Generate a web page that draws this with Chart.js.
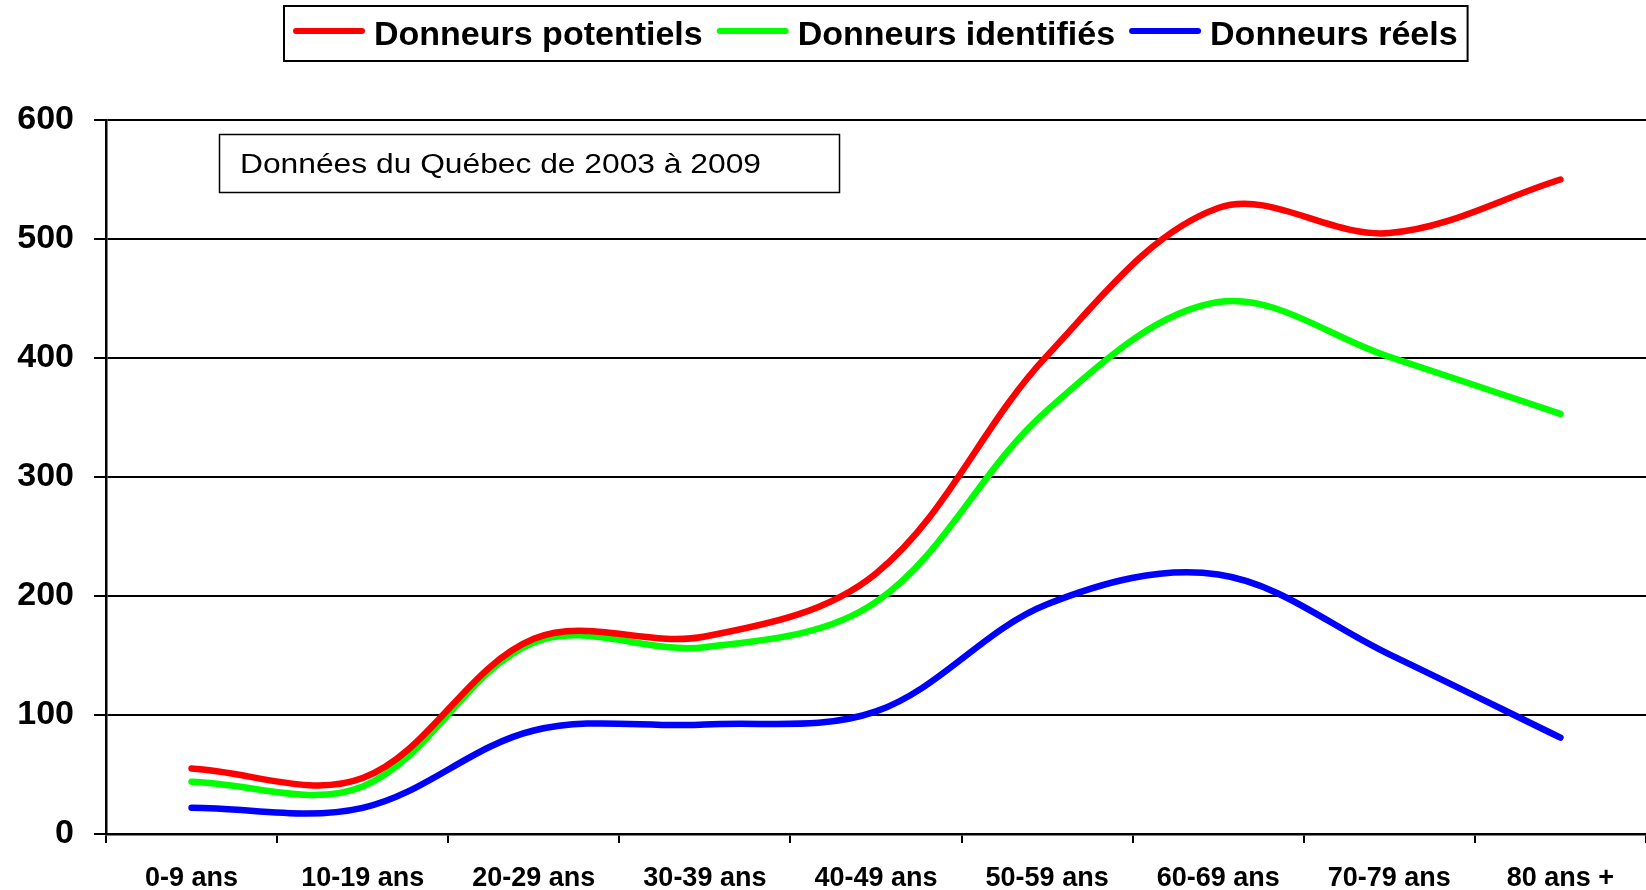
<!DOCTYPE html>
<html>
<head>
<meta charset="utf-8">
<script src="https://cdn.jsdelivr.net/npm/chart.js@4.4.1/dist/chart.umd.min.js"></script>
<style>
html,body{margin:0;padding:0;background:#fff;}
#wrap{width:1646px;height:890px;position:relative;}
</style>
</head>
<body>
<div id="wrap"><canvas id="c" width="1646" height="890"></canvas></div>
<script>
// ---- data ----
const categories = ['0-9 ans','10-19 ans','20-29 ans','30-39 ans','40-49 ans','50-59 ans','60-69 ans','70-79 ans','80 ans +'];
const seriesNames = ['Donneurs potentiels','Donneurs identifiés','Donneurs réels'];
const potentiels = [55, 47, 164, 166, 219, 402, 526, 505, 550];
const identifies = [44, 40, 161, 157, 195, 356, 447, 401, 353];
const reels      = [22, 22, 87, 92, 103, 193, 218, 151, 81];
const yTicks = [0, 100, 200, 300, 400, 500, 600];
const annotationText = 'Données du Québec de 2003 à 2009';
const seriesColors = ['#ff0000', '#00ff00', '#0000ff'];

const FONT = "'Liberation Sans', Arial, sans-serif";

const overlayPlugin = {
  id: 'overlay',
  afterDraw(chart) {
    const ctx = chart.ctx;
    ctx.save();
    // legend box
    ctx.font = 'bold 34px ' + FONT;
    ctx.textBaseline = 'alphabetic';
    let x = 293;
    const lineY = 31;
    const items = chart.data.datasets.map(d => ({label: d.label, color: d.borderColor}));
    const startX = x;
    items.forEach(it => {
      ctx.strokeStyle = it.color;
      ctx.lineWidth = 6;
      ctx.lineCap = 'round';
      ctx.beginPath();
      ctx.moveTo(x + 3, lineY);
      ctx.lineTo(x + 69, lineY);
      ctx.stroke();
      ctx.fillStyle = '#000';
      ctx.fillText(it.label, x + 81, 45);
      x = x + 81 + ctx.measureText(it.label).width + 14;
    });
    const endX = x - 14;
    ctx.strokeStyle = '#000';
    ctx.lineWidth = 2;
    ctx.lineCap = 'butt';
    ctx.strokeRect(startX - 9, 6, (endX + 10) - (startX - 9), 55);

    // annotation box
    ctx.lineWidth = 1.5;
    ctx.strokeRect(219.5, 134.5, 620, 58);
    ctx.font = '27px ' + FONT;
    const w = ctx.measureText(annotationText).width;
    const sx = 521 / w;
    ctx.translate(240, 172.5);
    ctx.scale(sx, 1);
    ctx.fillStyle = '#000';
    ctx.fillText(annotationText, 0, 0);
    ctx.restore();
  }
};

const mk = (label, data, color) => ({
  label, data,
  borderColor: color,
  backgroundColor: color,
  borderWidth: 6.5,
  borderCapStyle: 'round',
  borderJoinStyle: 'round',
  pointRadius: 0,
  pointHoverRadius: 0,
  tension: 0.35,
  fill: false
});

new Chart(document.getElementById('c'), {
  type: 'line',
  data: {
    labels: categories,
    datasets: [
      mk(seriesNames[0], potentiels, seriesColors[0]),
      mk(seriesNames[1], identifies, seriesColors[1]),
      mk(seriesNames[2], reels, seriesColors[2])
    ]
  },
  options: {
    responsive: false,
    devicePixelRatio: 1,
    animation: false,
    layout: {padding: {top: 120, right: 0, bottom: 0, left: 0}},
    plugins: {legend: {display: false}, tooltip: {enabled: false}},
    scales: {
      x: {
        type: 'category',
        offset: true,
        grid: {offset: true, drawOnChartArea: false, drawTicks: true, tickLength: 9, color: '#000', lineWidth: 2},
        border: {display: true, color: '#000', width: 2.5},
        ticks: {font: {family: FONT, size: 27, weight: 'bold'}, color: '#000', padding: 19, maxRotation: 0, autoSkip: false},
        afterFit: s => { s.height = 56; }
      },
      y: {
        min: 0, max: 600,
        afterBuildTicks: s => { s.ticks = yTicks.map(v => ({value: v})); },
        ticks: {font: {family: FONT, size: 34, weight: 'bold'}, color: '#000', padding: 20},
        grid: {color: '#000', lineWidth: 2, tickLength: 12, drawTicks: true},
        border: {display: true, color: '#000', width: 2.5},
        afterFit: s => { s.width = 106; }
      }
    }
  },
  plugins: [overlayPlugin]
});
</script>
</body>
</html>
